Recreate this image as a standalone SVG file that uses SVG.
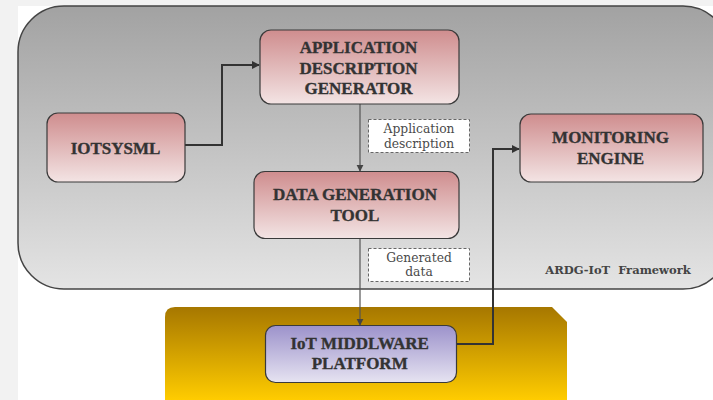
<svg xmlns="http://www.w3.org/2000/svg" width="713" height="400" viewBox="0 0 713 400">
<defs>
<linearGradient id="gFrame" x1="0" y1="0" x2="0" y2="1">
<stop offset="0" stop-color="#a2a2a2"/>
<stop offset="1" stop-color="#e4e4e4"/>
</linearGradient>
<linearGradient id="gGold" x1="0" y1="0" x2="0" y2="1">
<stop offset="0" stop-color="#a67700"/>
<stop offset="1" stop-color="#ffcc00"/>
</linearGradient>
<linearGradient id="gPink" x1="0" y1="0" x2="0" y2="1">
<stop offset="0" stop-color="#cf8d8e"/>
<stop offset="1" stop-color="#f3e4e4"/>
</linearGradient>
<linearGradient id="gPurple" x1="0" y1="0" x2="0" y2="1">
<stop offset="0" stop-color="#9c92cb"/>
<stop offset="1" stop-color="#e6e3f1"/>
</linearGradient>
<marker id="arr" viewBox="0 0 10 10" refX="9" refY="5" markerWidth="4" markerHeight="4" orient="auto" markerUnits="strokeWidth">
<path d="M0,0 L10,5 L0,10 z" fill="#333"/>
</marker>
<marker id="arrS" viewBox="0 0 10 10" refX="9" refY="5" markerWidth="6" markerHeight="6" orient="auto" markerUnits="strokeWidth">
<path d="M0,0 L10,5 L0,10 z" fill="#444"/>
</marker>
</defs>
<style>
.node{stroke:#3a3a3a;stroke-width:1.2}
.pink{fill:url(#gPink)}
.purple{fill:url(#gPurple)}
.t{font-family:"Liberation Serif","Times New Roman",serif;font-weight:bold;font-size:17px;fill:#333;stroke:#333;stroke-width:0.35;text-anchor:middle}
.lbl{font-family:"DejaVu Serif",serif;font-size:12.3px;fill:#4a4a4a;text-anchor:middle}
.lblbox{fill:#fff;stroke:#666;stroke-width:1;stroke-dasharray:3,2}
.thick{fill:none;stroke:#333;stroke-width:2}
.thin{fill:none;stroke:#555;stroke-width:1.2}
</style>
<rect x="0" y="0" width="713" height="400" fill="#fff"/>
<rect x="0" y="0" width="713" height="6" fill="#f2f2f2"/>
<rect x="0" y="0" width="18" height="400" fill="#f2f2f2"/>
<g id="framework">
<rect x="18" y="6" width="711" height="283" rx="46" ry="46" fill="url(#gFrame)" stroke="#444" stroke-width="1.5"/>
<text x="618" y="274" xml:space="preserve" style="font-family:'DejaVu Serif',serif;font-weight:bold;font-size:11.5px;fill:#444;text-anchor:middle">ARDG-IoT  Framework</text>
</g>
<g id="platform-area">
<path d="M165,400 L165,317 Q165,307 175,307 L552,307 L567,322 L567,400 z" fill="url(#gGold)"/>
</g>
<g id="connectors">
<polyline class="thick" points="185,145 222,145 222,65 259,65" marker-end="url(#arr)"/>
<line class="thin" x1="360" y1="104" x2="360" y2="171" marker-end="url(#arrS)"/>
<line class="thin" x1="360" y1="238" x2="360" y2="325" marker-end="url(#arrS)"/>
<polyline class="thick" points="457,344 493,344 493,149 519,149" marker-end="url(#arr)"/>
</g>
<g id="label-appdesc">
<rect class="lblbox" x="368.5" y="119.5" width="101" height="33"/>
<text class="lbl" x="419" y="133.3">Application</text>
<text class="lbl" x="419" y="147.7">description</text>
</g>
<g id="label-gendata">
<rect class="lblbox" x="368.5" y="248.5" width="101" height="33"/>
<text class="lbl" x="419" y="261.7">Generated</text>
<text class="lbl" x="419" y="276">data</text>
</g>
<g id="node-adg">
<rect class="node pink" x="260" y="30" width="199" height="74" rx="11"/>
<text class="t" x="358.5" y="53">APPLICATION</text>
<text class="t" x="358.5" y="73.5">DESCRIPTION</text>
<text class="t" x="358.5" y="93.7">GENERATOR</text>
</g>
<g id="node-iotsysml">
<rect class="node pink" x="47" y="113" width="138" height="69" rx="11"/>
<text class="t" x="115.5" y="154.3">IOTSYSML</text>
</g>
<g id="node-dgt">
<rect class="node pink" x="254" y="171.5" width="205" height="67" rx="11"/>
<text class="t" x="355" y="200.3">DATA GENERATION</text>
<text class="t" x="355" y="221.3">TOOL</text>
</g>
<g id="node-monitoring">
<rect class="node pink" x="520" y="114" width="183" height="68" rx="11"/>
<text class="t" x="610.5" y="143.3">MONITORING</text>
<text class="t" x="610.5" y="164.3">ENGINE</text>
</g>
<g id="node-middleware">
<rect class="node purple" x="265.5" y="325.5" width="191" height="57" rx="10"/>
<text class="t" x="359.7" y="349">IoT MIDDLWARE</text>
<text class="t" x="359.7" y="369">PLATFORM</text>
</g>
</svg>
